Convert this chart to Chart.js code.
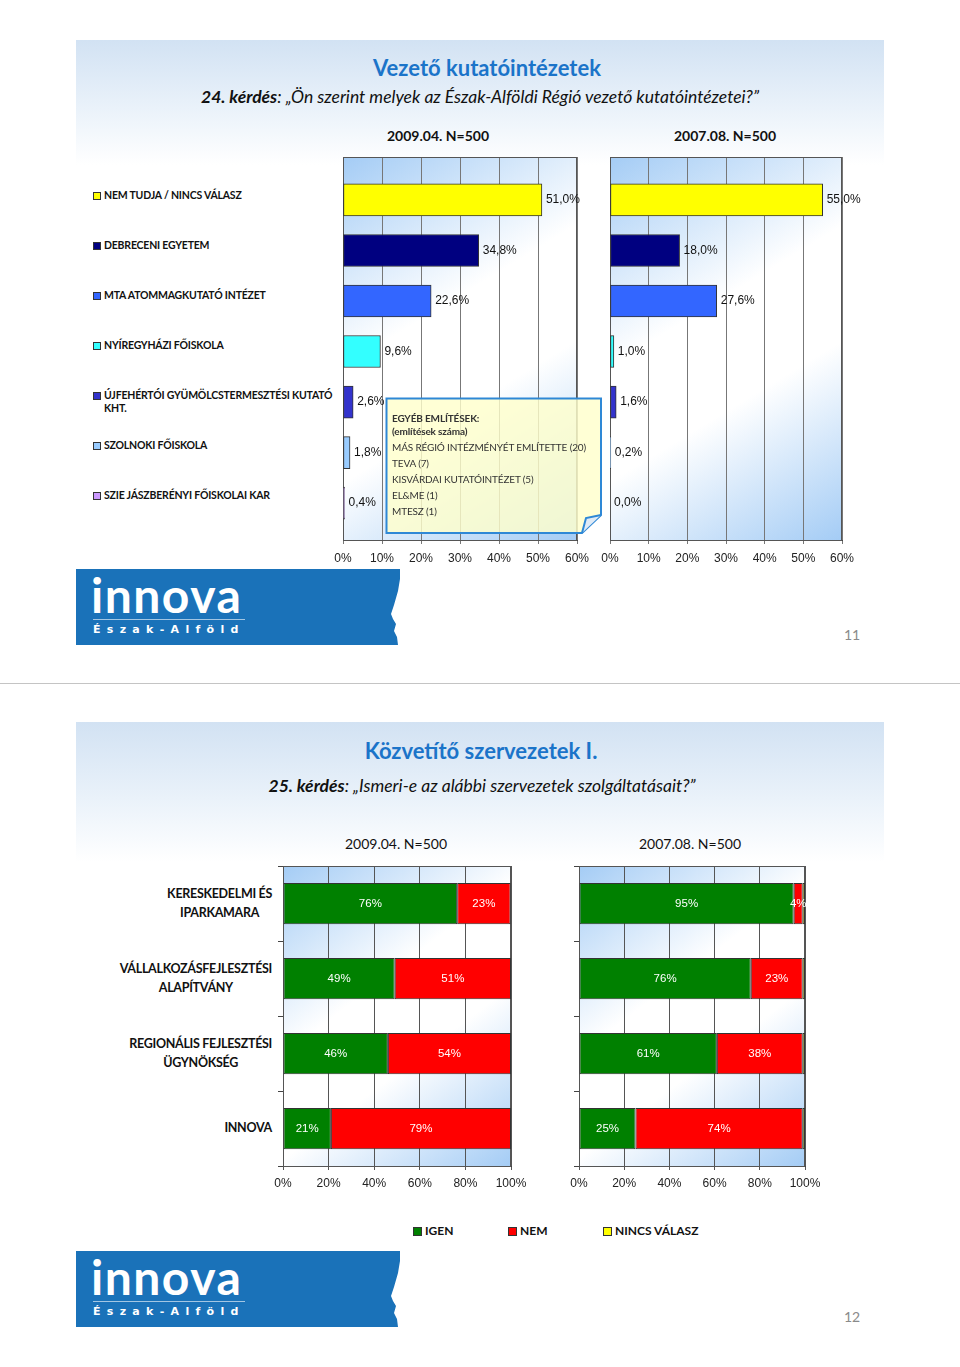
<!DOCTYPE html>
<html lang="hu">
<head>
<meta charset="utf-8">
<title>Vezető kutatóintézetek / Közvetítő szervezetek</title>
<script src="https://cdn.jsdelivr.net/npm/chart.js@4.4.1/dist/chart.umd.min.js"></script>
<style>
  body { margin: 0; background: #fff; }
  #page { position: relative; width: 960px; height: 1367px; overflow: hidden; font-family: Lato, "Open Sans", sans-serif; color: #111; }
  .hdr { position: absolute; left: 76px; width: 808px; background: linear-gradient(to bottom, #d2e2f3 0%, #eaf2fa 55%, #ffffff 100%); }
  .title { position: absolute; width: 600px; text-align: center; color: #1b74c9; font-weight: bold; font-size: 22px; line-height: 26px; }
  .sub { position: absolute; width: 800px; text-align: center; font-style: italic; font-size: 17.5px; line-height: 20px; }
  .per { position: absolute; width: 200px; text-align: center; font-weight: bold; font-size: 14px; line-height: 18px; }
  .leg { position: absolute; left: 93px; padding-left: 11px; font-weight: bold; font-size: 10.5px; letter-spacing: -0.2px; line-height: 13px; white-space: nowrap; }
  .leg i { position: absolute; left: 0; top: 3px; width: 6px; height: 6px; border: 1px solid #333; }
  .cat { position: absolute; text-align: center; font-weight: bold; font-size: 12.5px; letter-spacing: -0.3px; line-height: 18.5px; white-space: nowrap; }
  .bleg { position: absolute; top: 1224px; font-weight: bold; font-size: 12px; line-height: 14px; padding-left: 12px; }
  .bleg i { position: absolute; left: 0; top: 3px; width: 7px; height: 7px; border: 1px solid #333; }
  canvas { position: absolute; }
  .logo { position: absolute; left: 76px; width: 324px; height: 76px; background: #1a72b9;
    clip-path: polygon(0 0, 324px 0, 324px 10px, 322px 22px, 318px 36px, 315px 45px, 317px 50px, 320px 55px, 318px 62px, 321px 68px, 322px 76px, 0 76px); }
  .logo .inn { position: absolute; left: 15px; top: 0px; color: #fff; font: bold 48px/52px Lato, sans-serif; letter-spacing: 1.5px; }
  .logo .ln { position: absolute; left: 17px; top: 50px; width: 152px; height: 1px; background: rgba(255,255,255,0.6); }
  .logo .ea { position: absolute; left: 17px; top: 54px; color: #fff; font: bold 11px/14px "DejaVu Sans", sans-serif; letter-spacing: 6.3px; }
  .pnum { position: absolute; left: 844px; color: #8a8a8a; font-size: 14px; line-height: 16px; }
  .note { position: absolute; left: 392px; top: 412px; font-size: 10px; letter-spacing: -0.15px; color: #333; line-height: 16px; white-space: nowrap; }
  .note b { display: block; line-height: 13px; }
</style>
</head>
<body>
<div id="page">
  <!-- slide 11 -->
  <div class="hdr" style="top:40px;height:125px"></div>
  <div class="title" style="left:187px;top:55px">Vezető kutatóintézetek</div>
  <div class="sub" style="left:80px;top:87px"><b>24. kérdés</b>: „Ön szerint melyek az Észak-Alföldi Régió vezető kutatóintézetei?”</div>
  <div class="per" style="left:338px;top:127px">2009.04. N=500</div>
  <div class="per" style="left:625px;top:127px">2007.08. N=500</div>
  <div id="topLegend"></div>
  <canvas id="c1" width="294" height="430" style="left:313px;top:147px"></canvas>
  <canvas id="c2" width="292" height="430" style="left:580px;top:147px"></canvas>

  <svg style="position:absolute;left:385px;top:397px" width="220" height="140">
    <path d="M1.5,1.5 H216 V118 L197,136 H1.5 Z" fill="rgba(255,255,204,0.82)" stroke="#2e88d6" stroke-width="2"/>
    <path d="M197,136 L201,121 L216,118" fill="#dfeaf6" stroke="#2e88d6" stroke-width="2"/>
  </svg>
  <div class="note">
    <b>EGYÉB EMLÍTÉSEK:</b>
    <b>(említések száma)</b>
    <div style="margin-top:1px">MÁS RÉGIÓ INTÉZMÉNYÉT EMLÍTETTE (20)<br>TEVA (7)<br>KISVÁRDAI KUTATÓINTÉZET (5)<br>EL&amp;ME (1)<br>MTESZ (1)</div>
  </div>

  <div class="logo" style="top:569px"><div class="inn">innova</div><div class="ln"></div><div class="ea">Észak-Alföld</div></div>
  <div class="pnum" style="top:627px">11</div>

  <div style="position:absolute;left:0;top:683px;width:960px;height:1px;background:#c4c4c4"></div>

  <!-- slide 12 -->
  <div class="hdr" style="top:722px;height:140px"></div>
  <div class="title" style="left:181px;top:738px">Közvetítő szervezetek I.</div>
  <div class="sub" style="left:82px;top:776px"><b>25. kérdés</b>: „Ismeri-e az alábbi szervezetek szolgáltatásait?”</div>
  <div class="per" style="left:296px;top:835px;font-weight:normal">2009.04. N=500</div>
  <div class="per" style="left:590px;top:835px;font-weight:normal">2007.08. N=500</div>
  <div id="catLabels"></div>
  <canvas id="c3" width="291" height="344" style="left:250px;top:856px"></canvas>
  <canvas id="c4" width="289" height="344" style="left:546px;top:856px"></canvas>
  <div id="bottomLegend"></div>

  <div class="logo" style="top:1251px"><div class="inn">innova</div><div class="ln"></div><div class="ea">Észak-Alföld</div></div>
  <div class="pnum" style="top:1309px">12</div>
</div>

<script>
// 24. kérdés - vezető kutatóintézetek
const kutatoCats = [
    ['NEM TUDJA / NINCS VÁLASZ'],
    ['DEBRECENI EGYETEM'],
    ['MTA ATOMMAGKUTATÓ INTÉZET'],
    ['NYÍREGYHÁZI FŐISKOLA'],
    ['ÚJFEHÉRTÓI GYÜMÖLCSTERMESZTÉSI KUTATÓ', 'KHT.'],
    ['SZOLNOKI FŐISKOLA'],
    ['SZIE JÁSZBERÉNYI FŐISKOLAI KAR']
];
const kutato2009 = [51.0, 34.8, 22.6, 9.6, 2.6, 1.8, 0.4];
const kutato2007 = [55.0, 18.0, 27.6, 1.0, 1.6, 0.2, 0.0];
const kutatoColors = ['#ffff00', '#000080', '#3366ff', '#33ffff', '#3333cc', '#99ccff', '#cc99ff'];
const topTicks = [0, 10, 20, 30, 40, 50, 60];

// 25. kérdés - közvetítő szervezetek
const szervCats = [
    ['KERESKEDELMI ÉS', 'IPARKAMARA'],
    ['VÁLLALKOZÁSFEJLESZTÉSI', 'ALAPÍTVÁNY'],
    ['REGIONÁLIS FEJLESZTÉSI', 'ÜGYNÖKSÉG'],
    ['INNOVA']
];
const series = ['IGEN', 'NEM', 'NINCS VÁLASZ'];
const seriesColors = ['#008000', '#ff0000', '#ffff00'];
const igen2009 = [76.4, 49, 46, 21];
const nem2009 = [23.4, 51, 54, 79];
const nincs2009 = [0.2, 0, 0, 0];
const igen2007 = [95, 76, 61, 25];
const nem2007 = [4, 23, 38, 74];
const nincs2007 = [1, 1, 1, 1];
const bottomTicks = [0, 20, 40, 60, 80, 100];

const numFont = { family: 'Liberation Sans', size: 12 };

// gradient plot background + frame
const plotBg = {
    id: 'plotBg',
    beforeDraw(chart) {
        const { ctx, chartArea: a } = chart;
        const g = ctx.createLinearGradient(a.left, a.top, a.right, a.bottom);
        g.addColorStop(0, '#a4ccf5');
        g.addColorStop(0.4, '#ffffff');
        g.addColorStop(0.62, '#ffffff');
        g.addColorStop(1, '#a4ccf5');
        ctx.save();
        ctx.fillStyle = g;
        ctx.fillRect(a.left, a.top, a.width, a.height);
        ctx.restore();
    },
    beforeDatasetsDraw(chart) {
        const { ctx, chartArea: a } = chart;
        ctx.save();
        ctx.strokeStyle = '#555';
        ctx.lineWidth = 1;
        ctx.strokeRect(a.left + 0.5, a.top + 0.5, a.width - 1, a.height);
        ctx.restore();
    }
};

// value labels on the bars
const valueLabels = {
    id: 'valueLabels',
    afterDatasetsDraw(chart, args, opts) {
        const ctx = chart.ctx;
        ctx.save();
        ctx.textBaseline = 'middle';
        chart.data.datasets.forEach((ds, i) => {
            if (opts.skip && opts.skip.includes(i)) return;
            chart.getDatasetMeta(i).data.forEach((bar, j) => {
                const raw = ds.data[j];
                const v = typeof raw === 'object' ? raw.x : raw;
                if (opts.inside) {
                    if (!v) return;
                    ctx.fillStyle = '#fff';
                    ctx.font = '11.5px "Liberation Sans"';
                    ctx.textAlign = 'center';
                    ctx.fillText(Math.round(v) + '%', (bar.x + bar.base) / 2, bar.y);
                } else {
                    ctx.fillStyle = '#111';
                    ctx.font = '12px "Liberation Sans"';
                    ctx.textAlign = 'left';
                    ctx.fillText(v.toFixed(1).replace('.', ',') + '%', bar.x + 4, bar.y);
                }
            });
        });
        ctx.restore();
    }
};

function topChart(id, values) {
    return new Chart(document.getElementById(id), {
        type: 'bar',
        data: {
            datasets: [{
                data: values.map((v, i) => ({ x: v, y: i })),
                backgroundColor: kutatoColors,
                borderColor: '#333',
                borderWidth: 1,
                borderSkipped: false,
                barThickness: 32
            }]
        },
        options: {
            indexAxis: 'y',
            responsive: false,
            animation: false,
            layout: { padding: { left: 30, right: 30, top: 10, bottom: 9 } },
            scales: {
                x: {
                    min: 0, max: 60,
                    afterBuildTicks: s => { s.ticks = topTicks.map(v => ({ value: v })); },
                    afterFit: s => { s.height = 28; },
                    grid: { color: '#777', tickLength: 4 },
                    border: { color: '#444' },
                    ticks: { padding: 7, color: '#222', font: numFont, callback: v => v + '%' }
                },
                y: { type: 'linear', offset: false, reverse: true, min: -0.85, max: 6.73, display: false }
            },
            plugins: { legend: { display: false }, tooltip: { enabled: false }, valueLabels: {} }
        },
        plugins: [plotBg, valueLabels]
    });
}

function stackChart(id, igen, nem, nincs) {
    const sets = [igen, nem, nincs].map((d, i) => ({
        label: series[i],
        data: d,
        backgroundColor: seriesColors[i],
        borderColor: '#333',
        borderWidth: 1,
        borderSkipped: false,
        barPercentage: 0.55,
        categoryPercentage: 1
    }));
    return new Chart(document.getElementById(id), {
        type: 'bar',
        data: { labels: szervCats.map(c => c.join(' ')), datasets: sets },
        options: {
            indexAxis: 'y',
            responsive: false,
            animation: false,
            layout: { padding: { left: 28, right: 30, top: 10, bottom: 6 } },
            scales: {
                x: {
                    stacked: true, min: 0, max: 100,
                    afterBuildTicks: s => { s.ticks = bottomTicks.map(v => ({ value: v })); },
                    afterFit: s => { s.height = 28; },
                    grid: { color: '#555', tickLength: 4 },
                    border: { color: '#444' },
                    ticks: { padding: 6, color: '#222', font: numFont, callback: v => v + '%' }
                },
                y: {
                    stacked: true,
                    afterFit: s => { s.width = 5; },
                    grid: { drawOnChartArea: false, tickLength: 5, color: '#444' },
                    border: { color: '#444' },
                    ticks: { display: false }
                }
            },
            plugins: { legend: { display: false }, tooltip: { enabled: false }, valueLabels: { inside: true, skip: [2] } }
        },
        plugins: [plotBg, valueLabels]
    });
}

// left legend of the top slide
const topLegend = document.getElementById('topLegend');
kutatoCats.forEach((c, i) => {
    const el = document.createElement('div');
    el.className = 'leg';
    el.style.top = (189 + 50 * i) + 'px';
    el.innerHTML = `<i style="background:${kutatoColors[i]}"></i>` + c.join('<br>');
    topLegend.appendChild(el);
});

// category labels of the bottom slide (right edge at 272px)
const catLabels = document.getElementById('catLabels');
szervCats.forEach((c, i) => {
    const el = document.createElement('div');
    el.className = 'cat';
    el.style.right = (960 - 272) + 'px';
    el.style.top = (866 + 75 * (i + 0.5) - c.length * 18.5 / 2) + 'px';
    el.innerHTML = c.join('<br>');
    catLabels.appendChild(el);
});

const bottomLegend = document.getElementById('bottomLegend');
series.forEach((s, i) => {
    const el = document.createElement('div');
    el.className = 'bleg';
    el.style.left = (413 + 95 * i) + 'px';
    el.innerHTML = `<i style="background:${seriesColors[i]}"></i>` + s;
    bottomLegend.appendChild(el);
});

topChart('c1', kutato2009);
topChart('c2', kutato2007);
stackChart('c3', igen2009, nem2009, nincs2009);
stackChart('c4', igen2007, nem2007, nincs2007);
</script>
</body>
</html>
